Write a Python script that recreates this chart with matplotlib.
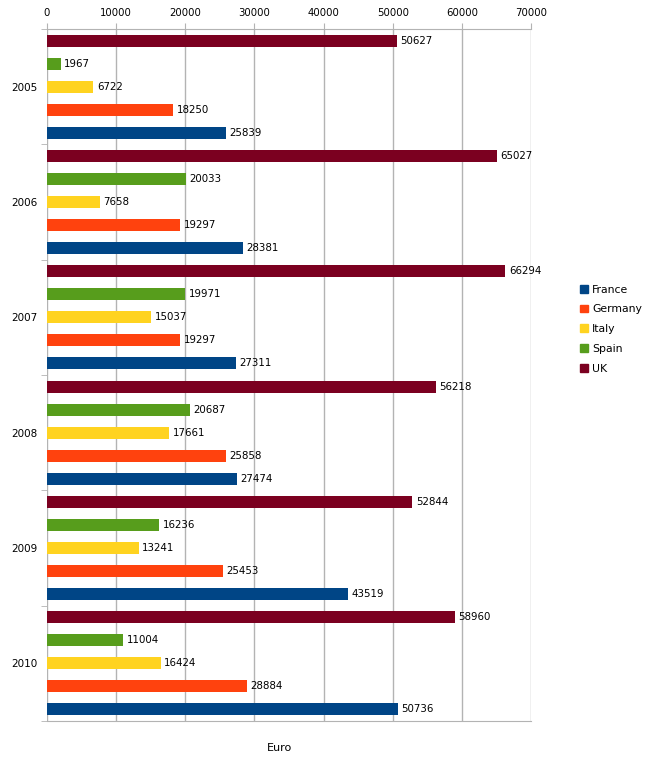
import matplotlib
matplotlib.use("Agg")
import matplotlib.pyplot as plt
from matplotlib.patches import Patch
import numpy as np

years = ["2005", "2006", "2007", "2008", "2009", "2010"]
series = ["UK", "Spain", "Italy", "Germany", "France"]
uk = [50627, 65027, 66294, 56218, 52844, 58960]
spain = [1967, 20033, 19971, 20687, 16236, 11004]
italy = [6722, 7658, 15037, 17661, 13241, 16424]
germany = [18250, 19297, 19297, 25858, 25453, 28884]
france = [25839, 28381, 27311, 27474, 43519, 50736]
colors = {"UK": "#7b0020", "Spain": "#579d1c", "Italy": "#ffd320",
          "Germany": "#ff420e", "France": "#004586"}
values = {"UK": uk, "Spain": spain, "Italy": italy, "Germany": germany, "France": france}

fig = plt.figure(figsize=(6.51, 7.71), dpi=100)
ax = fig.add_axes([47/651, 1-721/771, (531-47)/651, (721-29)/771])

n = len(years)
for j, s in enumerate(series):
    ys = np.arange(n) * 5 + j + 0.5
    ax.barh(ys, values[s], height=0.52, color=colors[s], zorder=3)
    for y, v in zip(ys, values[s]):
        ax.text(v + 500, y, str(v), va="center", ha="left", fontsize=7.4, zorder=4)

ax.set_xlim(0, 70000)
ax.set_ylim(n * 5, 0)
ax.xaxis.tick_top()
ax.set_xticks(np.arange(0, 70001, 10000))
ax.tick_params(axis="x", labelsize=7.3, length=4.3, color="#b3b3b3", pad=3.5)
ax.set_yticks(np.arange(n) * 5 + 2.5)
ax.set_yticklabels(years)
ax.set_yticks(np.arange(n + 1) * 5, minor=True)
ax.tick_params(axis="y", which="major", length=0, labelsize=7.5, pad=7)
ax.tick_params(axis="y", which="minor", length=4.5, color="#b3b3b3")
ax.grid(axis="x", color="#b3b3b3", linewidth=1, zorder=0)
for sp in ["left", "right"]:
    ax.spines[sp].set_visible(False)
for sp in ["top", "bottom"]:
    ax.spines[sp].set_color("#b3b3b3")
ax.set_xlabel("")
fig.text(280/651, 1-748/771, "Euro", ha="center", va="center", fontsize=8)

handles = [Patch(color=colors[s]) for s in ["France", "Germany", "Italy", "Spain", "UK"]]
fig.legend(handles, ["France", "Germany", "Italy", "Spain", "UK"],
           loc="center left", bbox_to_anchor=(570/651, 1-329/771), frameon=False,
           fontsize=7.8, handlelength=0.75, handleheight=0.75, handletextpad=0.4,
           labelspacing=0.9)

fig.savefig("out.png", dpi=100)
